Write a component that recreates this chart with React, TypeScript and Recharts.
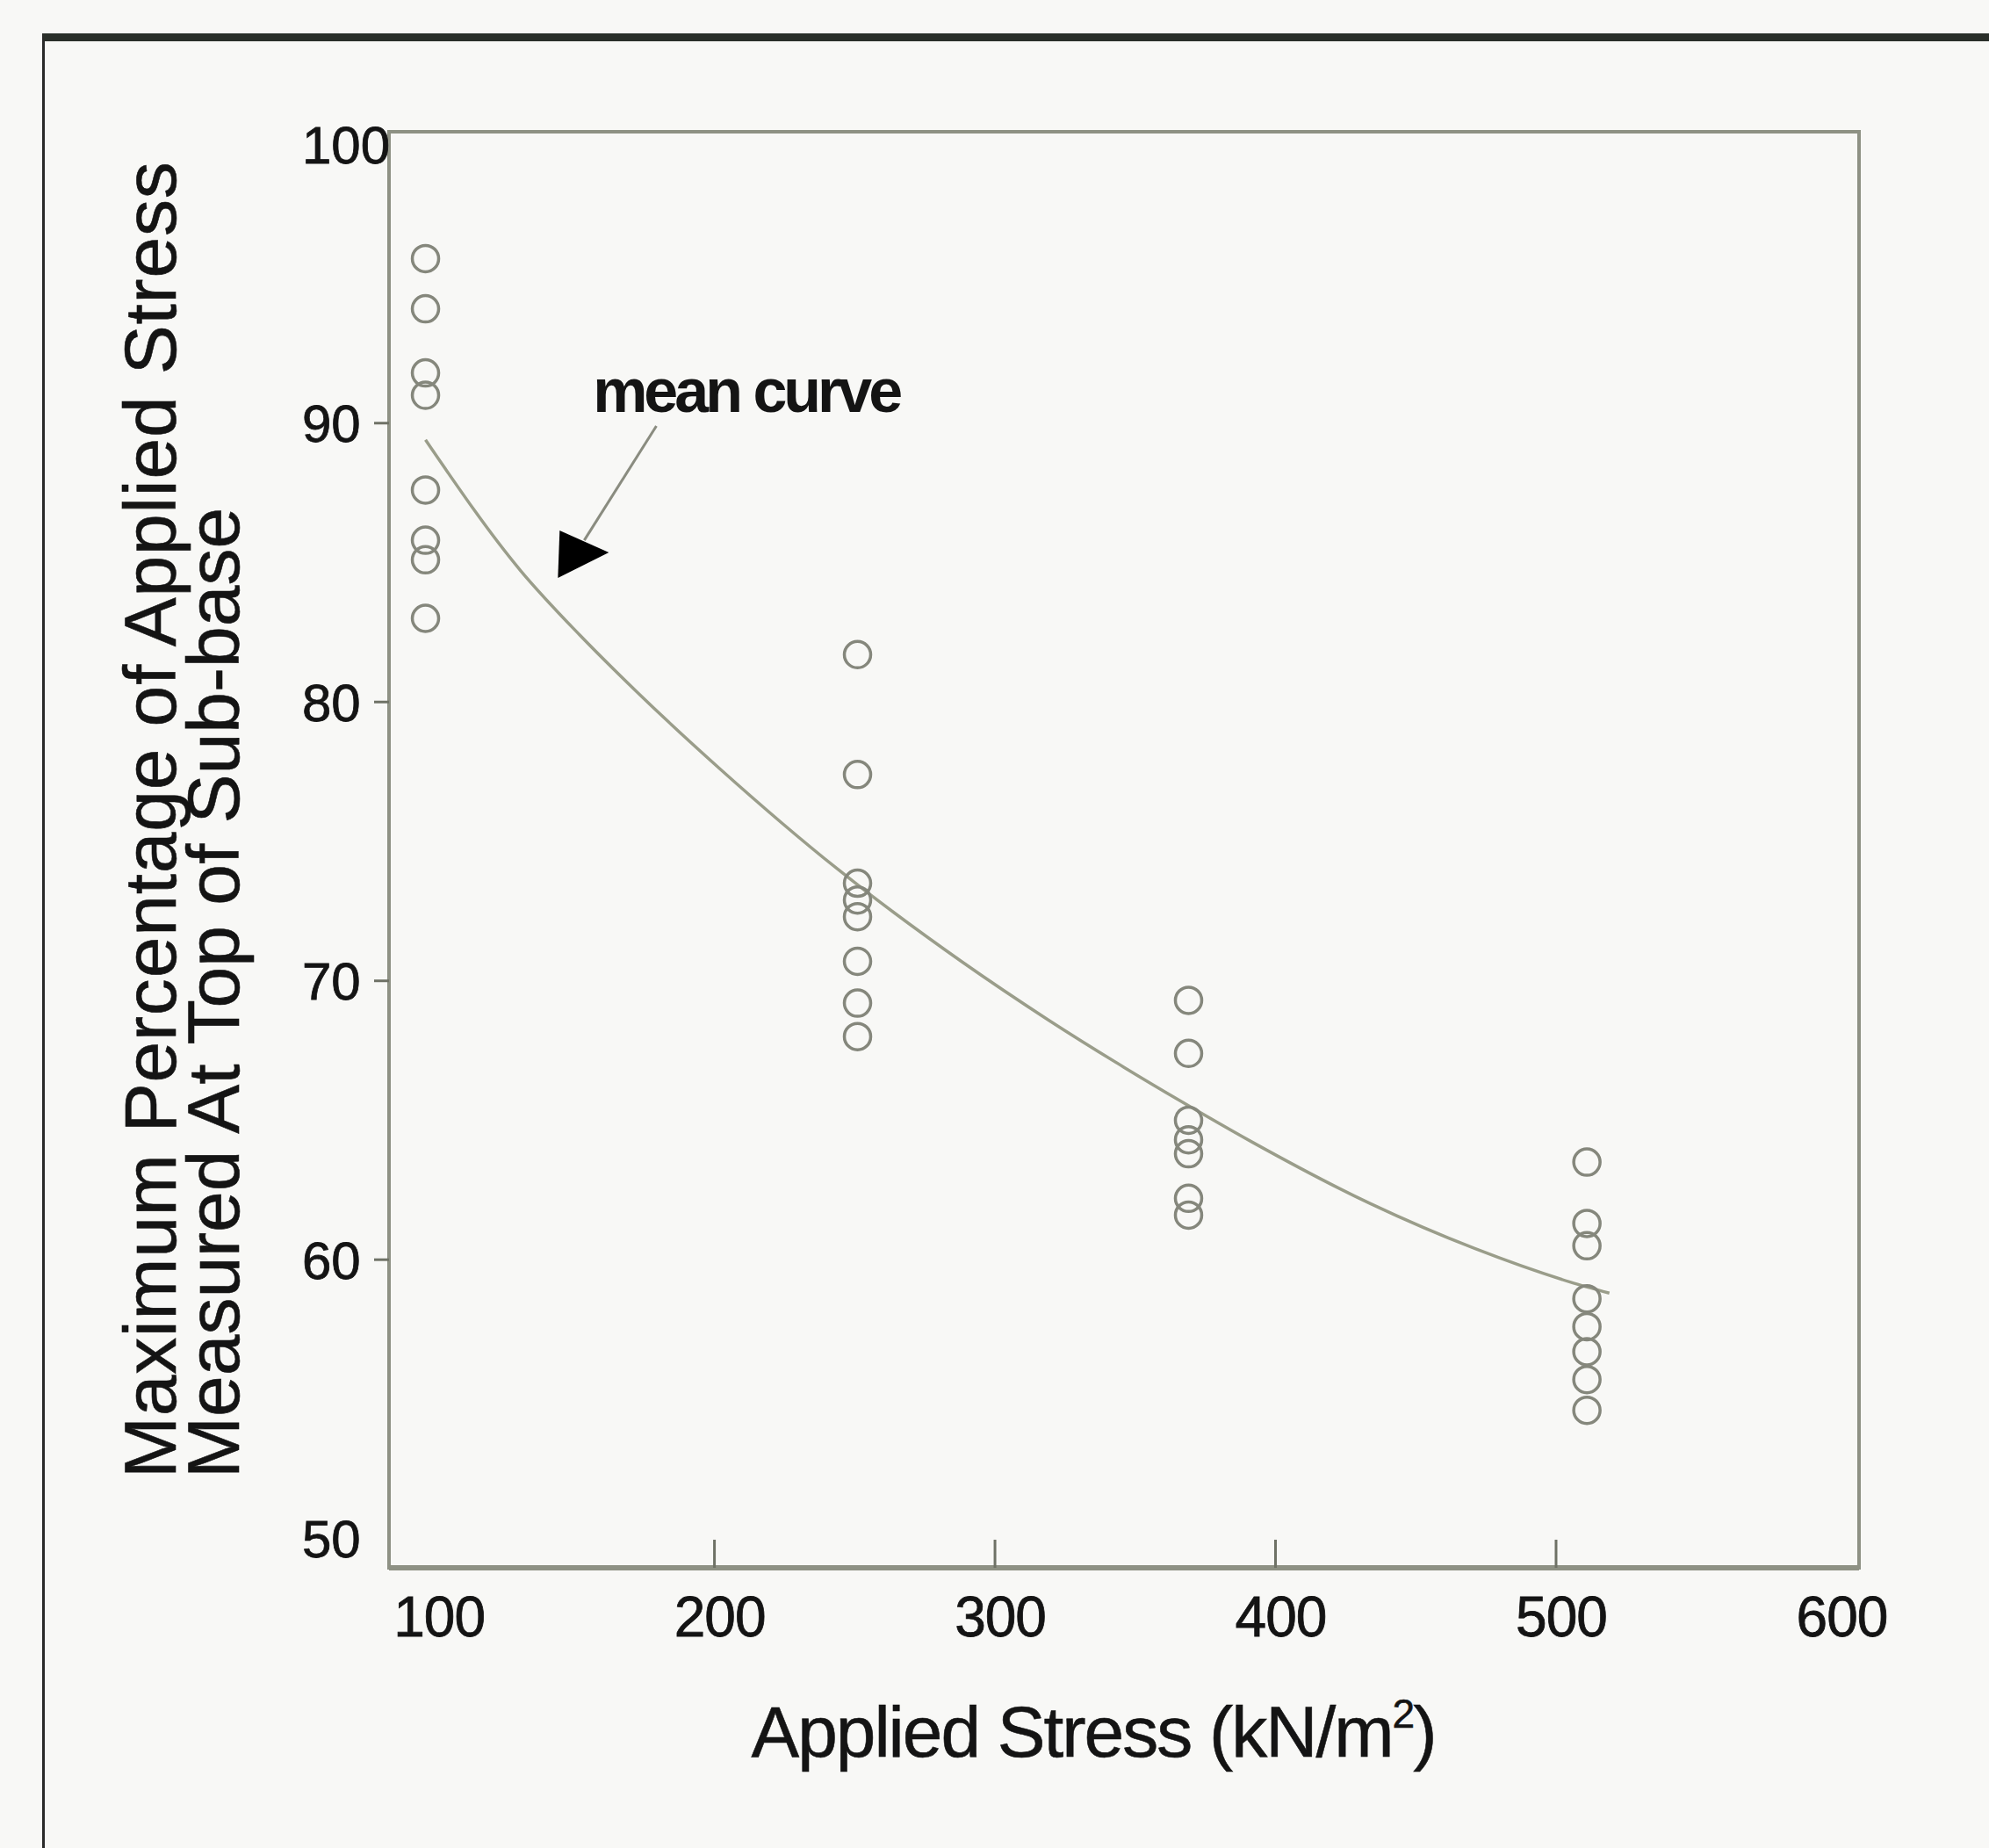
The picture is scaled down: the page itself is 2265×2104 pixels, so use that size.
import {
  ComposedChart,
  Line,
  Scatter,
  XAxis,
  YAxis,
  ReferenceArea,
  ReferenceLine,
  ReferenceDot,
} from "recharts";

// applied stress (kN/m2) of each test group
const groupStress = [97, 251, 369, 511];

// max % of applied stress at top of sub-base, per group
const pct100 = [95.9, 94.1, 91.8, 91.0, 87.6, 85.8, 85.1, 83.0];
const pct250 = [81.7, 77.4, 73.5, 72.9, 72.3, 70.7, 69.2, 68.0];
const pct370 = [69.3, 67.4, 65.0, 64.3, 63.8, 62.2, 61.6];
const pct510 = [63.5, 61.3, 60.5, 58.6, 57.6, 56.7, 55.7, 54.6];

// mean curve, traced along its length
const curveStress = [97, 131, 152, 173, 202, 244, 288, 319, 346, 366, 392, 434, 471, 505, 519];
const curvePct = [89.4, 84.7, 82.4, 80.3, 77.6, 74.0, 70.7, 68.6, 66.9, 65.7, 64.2, 62.0, 60.4, 59.2, 58.8];

const xTicks = [100, 200, 300, 400, 500, 600];
const yTicks = [50, 60, 70, 80, 90, 100];

// annotation: "mean curve" arrow (data coords)
const arrowFrom = { x: 179.3, y: 89.9 };
const arrowTo = { x: 153.6, y: 85.8 };
const arrowTip = { x: 144.2, y: 84.45 };
const noteAt = { x: 211.3, y: 90.4 };

const points = [pct100, pct250, pct370, pct510].flatMap((list, g) =>
  list.map((pct) => ({ x: groupStress[g], y: pct }))
);
const curve = curveStress.map((x, i) => ({ x, y: curvePct[i] }));

const FONT = '"Liberation Sans", Arial, sans-serif';
const AXIS = "#8e9184";
const INK = "#141414";

const XTick = ({ x, y, payload }: any) => (
  <g>
    {payload.value > 100 && payload.value < 600 && (
      <line x1={x} x2={x} y1={y} y2={y - 32} stroke="#6f7266" strokeWidth={3} />
    )}
    <text
      x={x + 6}
      y={y + 78}
      textAnchor="middle"
      fontSize={64}
      fill={INK}
      stroke={INK}
      strokeWidth={0.8}
      letterSpacing={-1}
      fontFamily={FONT}
    >
      {payload.value}
    </text>
  </g>
);

const YTick = ({ x, y, payload }: any) => (
  <g>
    {payload.value > 50 && payload.value < 100 && (
      <line x1={x - 17} x2={x} y1={y} y2={y} stroke="#6f7266" strokeWidth={3} />
    )}
    <text
      x={x - 99}
      y={y}
      dy="0.36em"
      textAnchor="start"
      fontSize={60}
      fill={INK}
      stroke={INK}
      strokeWidth={0.8}
      fontFamily={FONT}
    >
      {payload.value}
    </text>
  </g>
);

const XTitle = ({ viewBox }: any) => (
  <text
    x={viewBox.x + viewBox.width / 2 - 35}
    y={viewBox.y + 215}
    textAnchor="middle"
    fontSize={82}
    fill={INK}
    stroke={INK}
    strokeWidth={0.6}
    fontFamily={FONT}
    letterSpacing={-2}
  >
    Applied Stress (kN/m
    <tspan dy={-33} fontSize={46}>2</tspan>
    <tspan dy={33}>)</tspan>
  </text>
);

const YTitle = ({ viewBox }: any) => {
  const bottom = viewBox.y + viewBox.height - 102;
  return (
    <g fontSize={84} fill={INK} stroke={INK} strokeWidth={0.6} fontFamily={FONT}>
      <text transform={`translate(200, ${bottom}) rotate(-90)`} textAnchor="start" letterSpacing={0.8}>
        Maximum Percentage of Applied Stress
      </text>
      <text transform={`translate(272, ${bottom}) rotate(-90)`} textAnchor="start">
        Measured At Top of Sub-base
      </text>
    </g>
  );
};

const Ring = ({ cx, cy }: any) => (
  <circle cx={cx} cy={cy} r={15} fill="none" stroke="#85877c" strokeWidth={3.5} />
);

const ArrowHead = ({ cx, cy }: any) => (
  <polygon points={`${cx},${cy} ${cx + 2},${cy - 54} ${cx + 58},${cy - 29}`} fill="#000" />
);

const Note = ({ cx, cy }: any) => (
  <text
    x={cx}
    y={cy}
    textAnchor="middle"
    fontSize={70}
    fontWeight="bold"
    letterSpacing={-4}
    fill={INK}
    fontFamily={FONT}
  >
    mean curve
  </text>
);

export default function App() {
  return (
    <div
      style={{
        position: "absolute",
        left: 0,
        top: 0,
        width: 2265,
        height: 2104,
        background: "#f8f8f6",
        overflow: "hidden",
      }}
    >
      <div
        style={{
          position: "absolute",
          left: 48,
          top: 38,
          width: 2300,
          height: 2200,
          borderTop: "9px solid #2a2f2a",
          borderLeft: "3px solid #2a2a2a",
        }}
      />
      <div style={{ position: "absolute", left: 0, top: 0 }}>
        <ComposedChart
          width={2265}
          height={2104}
          margin={{ top: 150, right: 148, bottom: 219, left: 343 }}
        >
          <XAxis
            type="number"
            dataKey="x"
            domain={[84, 608]}
            ticks={xTicks}
            allowDataOverflow
            height={100}
            tickSize={0}
            tickMargin={0}
            tick={<XTick />}
            axisLine={{ stroke: AXIS, strokeWidth: 6 }}
            label={{ content: <XTitle /> }}
          />
          <YAxis
            type="number"
            dataKey="y"
            domain={[48.95, 100.45]}
            ticks={yTicks}
            allowDataOverflow
            width={100}
            tickSize={0}
            tickMargin={0}
            tick={<YTick />}
            axisLine={{ stroke: AXIS, strokeWidth: 4 }}
            label={{ content: <YTitle /> }}
          />
          <ReferenceArea
            x1={84}
            x2={608}
            y1={48.95}
            y2={100.45}
            fill="none"
            stroke={AXIS}
            strokeWidth={4}
            ifOverflow="visible"
          />
          <Line
            data={curve}
            dataKey="y"
            type="monotone"
            dot={false}
            activeDot={false}
            stroke="#9a9d8a"
            strokeWidth={3.5}
            isAnimationActive={false}
          />
          <Scatter data={points} dataKey="y" shape={<Ring />} isAnimationActive={false} />
          <ReferenceLine
            segment={[arrowFrom, arrowTo]}
            stroke="#8a8c80"
            strokeWidth={3}
          />
          <ReferenceDot x={arrowTip.x} y={arrowTip.y} r={0} shape={<ArrowHead />} />
          <ReferenceDot x={noteAt.x} y={noteAt.y} r={0} shape={<Note />} />
        </ComposedChart>
      </div>
    </div>
  );
}
